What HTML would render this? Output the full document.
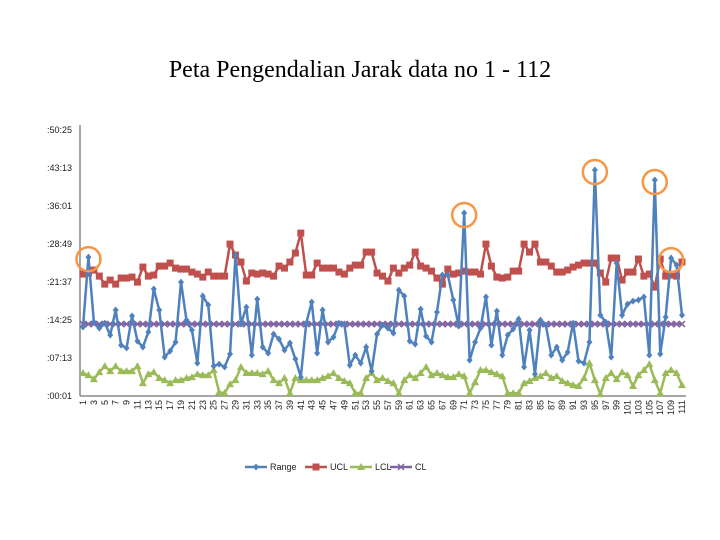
<!DOCTYPE html>
<html><head><meta charset="utf-8"><style>
body{margin:0;background:#fff;}
svg{display:block;font-family:"Liberation Sans",sans-serif;}
</style></head><body>
<svg id="chart" width="720" height="540">
<text x="360" y="77" text-anchor="middle" font-family="Liberation Serif,serif" font-size="24">Peta Pengendalian Jarak data no 1 - 112</text>
<g id="axes"></g><g id="series"></g><g id="legend"></g>
</svg>
<script>
const rangeVals=[785,1580,841,773,830,694,978,580,546,910,625,557,728,1217,978,443,512,614,1296,864,750,375,1137,1035,341,364,330,478,1603,819,1012,466,1103,557,489,705,648,523,603,421,216,830,1069,489,978,614,671,830,819,352,466,375,557,284,705,807,773,716,1205,1137,625,591,989,682,614,955,1376,1376,1092,796,2081,409,614,773,1126,580,966,466,694,762,875,330,750,250,864,807,466,557,409,500,830,398,375,614,2570,921,841,443,1512,921,1046,1080,1092,1126,466,2456,478,898,1569,1489,921];
const uclVals=[1387,1399,1433,1364,1273,1319,1273,1342,1342,1353,1296,1467,1364,1376,1478,1478,1512,1455,1444,1444,1410,1387,1353,1410,1364,1364,1364,1728,1603,1524,1308,1399,1387,1399,1387,1364,1478,1455,1524,1626,1853,1376,1376,1512,1455,1455,1455,1410,1387,1455,1489,1489,1637,1637,1399,1364,1308,1455,1399,1455,1489,1637,1478,1455,1421,1342,1273,1444,1387,1399,1421,1410,1410,1387,1728,1478,1353,1342,1353,1421,1421,1728,1637,1728,1524,1524,1478,1410,1410,1433,1467,1489,1512,1512,1512,1399,1296,1569,1569,1319,1410,1410,1558,1364,1387,1239,1558,1364,1376,1364,1524];
const lclVals=[262,239,193,273,341,284,341,284,284,284,341,148,250,273,205,182,148,182,182,205,216,250,239,239,296,45,34,136,182,330,262,262,262,250,284,182,148,205,34,205,182,182,182,182,205,227,262,205,171,148,34,34,205,262,182,205,171,148,34,182,239,205,262,330,239,262,239,216,216,250,227,34,159,296,296,273,250,227,34,34,34,148,171,205,227,262,205,227,171,148,125,114,205,375,182,23,205,262,193,273,239,114,239,296,364,182,34,262,296,262,125];
const clValue=819;
const yTicks=[1,433,865,1297,1729,2161,2593,3025];
const flagged=[2,71,95,106,109];
const NS='http://www.w3.org/2000/svg';
const X0=83,X1=682,Y0=396,Y1=130,VMAX=3024;
const n=rangeVals.length;
const xs=i=>X0+(X1-X0)*i/(n-1);
const ys=v=>Y0-(v-1)*(Y0-Y1)/VMAX;
function mk(tag,attrs,parent){const e=document.createElementNS(NS,tag);for(const k in attrs)e.setAttribute(k,attrs[k]);parent.appendChild(e);return e;}
const axes=document.getElementById('axes'),ser=document.getElementById('series'),leg=document.getElementById('legend');
let a=mk('line',{x1:80,y1:125,x2:80,y2:Y0,stroke:'#888','stroke-width':1.5},axes);


a=mk('line',{x1:80,y1:Y0,x2:686,y2:Y0,stroke:'#888','stroke-width':1.5},axes);


const fmt=s=>':'+String(Math.floor(s/60)).padStart(2,'0')+':'+String(s%60).padStart(2,'0');
yTicks.forEach(t=>{const e=mk('text',{x:72,y:ys(t)+3,'text-anchor':'end','font-size':9,fill:'#222'},axes);e.textContent=fmt(t);

});
for(let i=0;i<n;i+=2){const x=xs(i)+3,y=400;const e=mk('text',{x:x,y:y,'text-anchor':'end','font-size':9,fill:'#222',transform:`rotate(-90 ${x} ${y})`},axes);e.textContent=String(i+1);

}
function series(vals,color,name,marker){
 const g=mk('g',{},ser);
 
 
 mk('polyline',{points:vals.map((v,i)=>xs(i)+','+ys(v)).join(' '),fill:'none',stroke:color,'stroke-width':2.5},g);
 vals.forEach((v,i)=>{marker(g,xs(i),ys(v),color);});
}
const diamond=(g,x,y,c)=>mk('path',{d:`M${x} ${y-3.5}L${x+3} ${y}L${x} ${y+3.5}L${x-3} ${y}Z`,fill:c},g);
const square=(g,x,y,c)=>mk('rect',{x:x-3.5,y:y-3.5,width:7,height:7,fill:c},g);
const tri=(g,x,y,c)=>mk('path',{d:`M${x} ${y-4}L${x+4} ${y+3}L${x-4} ${y+3}Z`,fill:c},g);
const cross=(g,x,y,c)=>mk('path',{d:`M${x-3} ${y-3}L${x+3} ${y+3}M${x+3} ${y-3}L${x-3} ${y+3}`,stroke:c,'stroke-width':1.5},g);
series(lclVals,'#9bbb59','lcl',tri);
series(uclVals,'#c0504d','ucl',square);
series(rangeVals.map(()=>clValue),'#8064a2','cl',cross);
series(rangeVals,'#4f81bd','range',diamond);
flagged.forEach(p=>{const c=mk('circle',{cx:xs(p-1),cy:ys(rangeVals[p-1])+2,r:12,fill:'none',stroke:'#f79646','stroke-width':2.5},ser);

});
[['Range','#4f81bd',diamond,245],['UCL','#c0504d',square,305],['LCL','#9bbb59',tri,350],['CL','#8064a2',cross,390]].forEach(([t,c,m,x])=>{
 const g=mk('g',{},leg);
 
 
 mk('line',{x1:x,y1:467,x2:x+22,y2:467,stroke:c,'stroke-width':2.5},g);m(g,x+11,467,c);
 const e=mk('text',{x:x+25,y:470,'font-size':9,fill:'#222'},g);e.textContent=t;});
</script>
</body></html>
